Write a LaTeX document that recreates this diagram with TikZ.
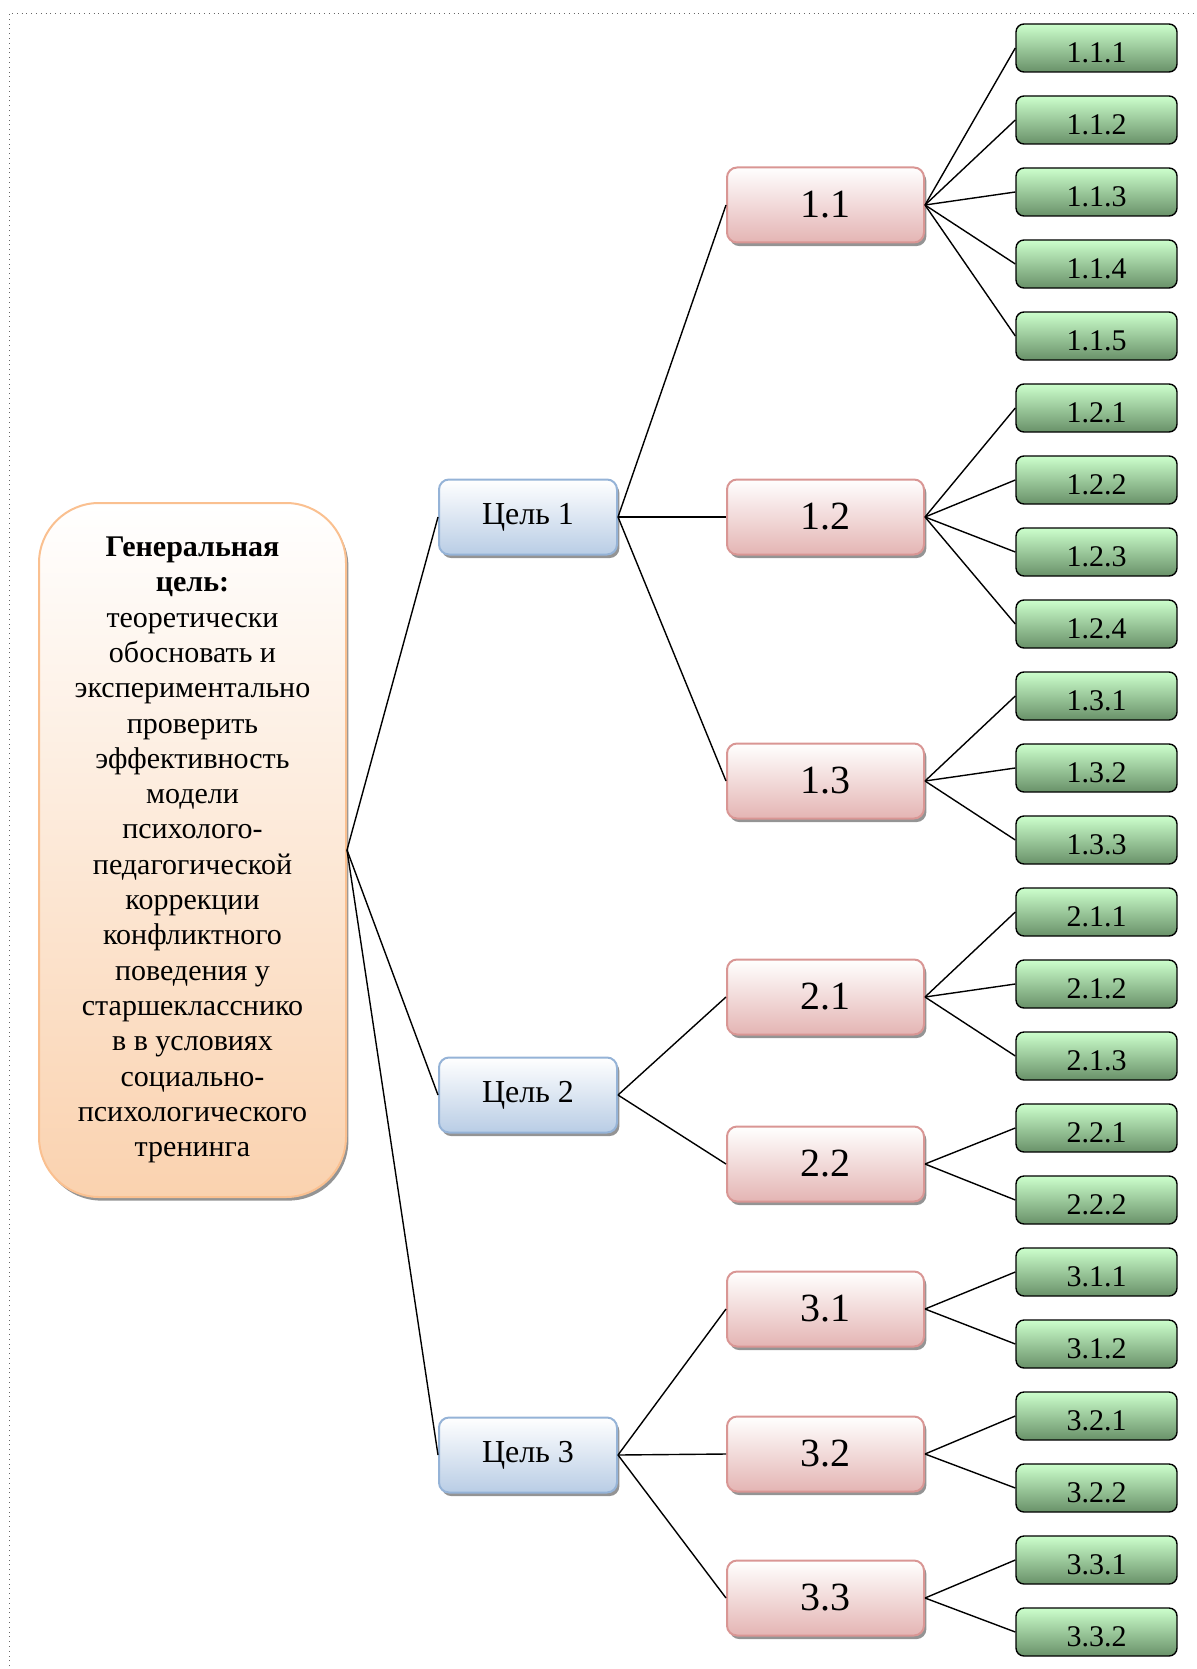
\documentclass[tikz,border=0pt]{standalone}
\usepackage{fontspec}
\setmainfont{Liberation Serif}
\usetikzlibrary{shadows}

\definecolor{goalfill}{RGB}{250,210,175}
\definecolor{goalline}{RGB}{250,192,144}
\definecolor{aimfill}{RGB}{185,205,229}
\definecolor{aimline}{RGB}{149,179,215}
\definecolor{taskfill}{RGB}{228,180,179}
\definecolor{taskline}{RGB}{217,150,148}
\definecolor{steptop}{RGB}{204,255,204}
\definecolor{stepbot}{RGB}{105,145,105}

\tikzset{
  boxshadow/.style={drop shadow={shadow xshift=1.2pt, shadow yshift=-1.8pt, fill=black!60, opacity=0.7}},
  goalbox/.style={draw=goalline, line width=1pt, rounded corners=30pt, top color=white, bottom color=goalfill,
    minimum width=153.5pt, minimum height=347pt, align=center, inner sep=0pt,
    font=\fontsize{15pt}{17.65pt}\selectfont, boxshadow},
  aimbox/.style={draw=aimline, line width=1pt, rounded corners=5pt, top color=white, bottom color=aimfill,
    minimum width=89pt, minimum height=37.5pt, inner sep=0pt, font=\fontsize{16pt}{19pt}\selectfont, boxshadow},
  taskbox/.style={draw=taskline, line width=1pt, rounded corners=5pt, top color=white, bottom color=taskfill,
    minimum width=98.5pt, minimum height=37.5pt, inner sep=0pt, font=\fontsize{20pt}{24pt}\selectfont, boxshadow},
  stepbox/.style={draw=black, line width=0.7pt, rounded corners=4pt, top color=steptop, bottom color=stepbot,
    minimum width=80.5pt, minimum height=24pt, inner sep=0pt, text height=14.5pt, text depth=0pt,
    font=\fontsize{15pt}{18pt}\selectfont},
  link/.style={line width=0.7pt}
}

\begin{document}
\begin{tikzpicture}[x=0.5pt, y=-0.5pt]
    \useasboundingbox (0,0) rectangle (1196,1669);

    % page frame
    \draw[black!60, dotted] (9,1690) -- (9,13) -- (1220,13);

    \node[goalbox] (goal) at (192.5,850) {\textbf{Генеральная}\\\textbf{цель:}\\теоретически\\обосновать и\\экспериментально\\проверить\\эффективность\\модели\\психолого-\\педагогической\\коррекции\\конфликтного\\поведения у\\старшекласснико\\в в условиях\\социально-\\психологического\\тренинга};

    \foreach \a/\y in {1/517, 2/1095, 3/1455} {
        \node[aimbox] (aim\a) at (528,\y) {Цель \a};
        \draw[link] (goal.east) -- (aim\a.west);
    }

    \foreach \a/\b/\y in {1/1/205, 1/2/517, 1/3/781, 2/1/997, 2/2/1164, 3/1/1309, 3/2/1454, 3/3/1598} {
        \node[taskbox] (task\a\b) at (825.5,\y) {\a.\b};
        \draw[link] (aim\a.east) -- (task\a\b.west);
    }

    \foreach \a/\b/\c/\k in {1/1/1/0, 1/1/2/1, 1/1/3/2, 1/1/4/3, 1/1/5/4,
                             1/2/1/5, 1/2/2/6, 1/2/3/7, 1/2/4/8,
                             1/3/1/9, 1/3/2/10, 1/3/3/11,
                             2/1/1/12, 2/1/2/13, 2/1/3/14,
                             2/2/1/15, 2/2/2/16,
                             3/1/1/17, 3/1/2/18,
                             3/2/1/19, 3/2/2/20,
                             3/3/1/21, 3/3/2/22} {
        \node[stepbox] (step\a\b\c) at (1096.5,48+72*\k) {\a.\b.\c};
        \draw[link] (task\a\b.east) -- (step\a\b\c.west);
    }

\end{tikzpicture}
\end{document}
